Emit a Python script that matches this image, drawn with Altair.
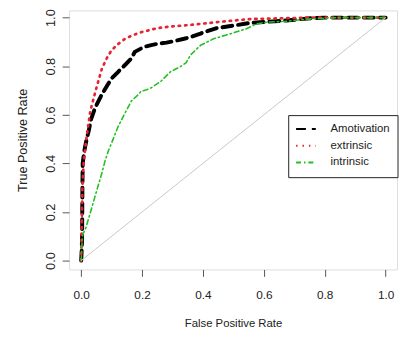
import altair as alt
import pandas as pd

series_names = ["Amotivation", "extrinsic", "intrinsic"]
series_colors = ["#000000", "#e62332", "#22c022"]
series_dashes = [[10, 6], [1.5, 5], [5, 3, 1.5, 3]]
series_widths = [4, 2.7, 1.6]

amot_fpr = [0, 0.002, 0.003, 0.004, 0.005, 0.01, 0.018, 0.025, 0.032, 0.046, 0.068, 0.085,
            0.101, 0.12, 0.144, 0.165, 0.176, 0.197, 0.208, 0.23, 0.251, 0.28, 0.305, 0.338,
            0.359, 0.392, 0.403, 0.446, 0.5, 0.553, 0.6, 0.672, 0.758, 0.8, 1.0]
amot_tpr = [0, 0.05, 0.1, 0.3, 0.4, 0.45, 0.5, 0.535, 0.58, 0.63, 0.684, 0.72,
            0.751, 0.775, 0.805, 0.832, 0.859, 0.873, 0.880, 0.887, 0.892, 0.897, 0.903, 0.913,
            0.920, 0.934, 0.94, 0.957, 0.967, 0.978, 0.982, 0.988, 0.998, 1.0, 1.0]

extr_fpr = [0, 0.002, 0.004, 0.008, 0.013, 0.019, 0.03, 0.047, 0.068, 0.085, 0.1, 0.12,
            0.144, 0.17, 0.197, 0.251, 0.3, 0.359, 0.42, 0.467, 0.553, 0.65, 0.75, 1.0]
extr_tpr = [0, 0.15, 0.3, 0.4, 0.46, 0.52, 0.616, 0.697, 0.79, 0.835, 0.866, 0.89,
            0.913, 0.928, 0.94, 0.957, 0.964, 0.97, 0.978, 0.984, 0.994, 0.997, 1.0, 1.0]

intr_fpr = [0, 0.003, 0.006, 0.014, 0.03, 0.052, 0.068, 0.079, 0.09, 0.105, 0.12, 0.143,
            0.165, 0.185, 0.197, 0.215, 0.23, 0.262, 0.294, 0.327, 0.345, 0.359, 0.392,
            0.435, 0.489, 0.543, 0.575, 0.607, 0.672, 0.758, 0.85, 1.0]
intr_tpr = [0, 0.076, 0.11, 0.13, 0.197, 0.292, 0.36, 0.413, 0.454, 0.5, 0.548, 0.605,
            0.657, 0.68, 0.697, 0.703, 0.711, 0.738, 0.778, 0.799, 0.815, 0.846, 0.886,
            0.913, 0.933, 0.954, 0.974, 0.981, 0.985, 0.995, 1.0, 1.0]

diag_fpr = [0, 1]
diag_tpr = [0, 1]

tick_values = [0, 0.2, 0.4, 0.6, 0.8, 1.0]

rows = []
for name, xs, ys in zip(series_names, [amot_fpr, extr_fpr, intr_fpr], [amot_tpr, extr_tpr, intr_tpr]):
    for i, (a, b) in enumerate(zip(xs, ys)):
        rows.append({"series": name, "fpr": a, "tpr": b, "idx": i})
df = pd.DataFrame(rows)
diag_df = pd.DataFrame({"fpr": diag_fpr, "tpr": diag_tpr, "idx": [0, 1]})

FONT = "Liberation Sans"
xscale = alt.Scale(domain=[-0.0398, 1.0375], nice=False, zero=False)
yscale = alt.Scale(domain=[-0.0365, 1.0296], nice=False, zero=False)

xaxis = alt.Axis(values=tick_values, format=".1f", domain=False, grid=False, tickSize=7,
                 tickColor="#555", labelFont=FONT, labelFontSize=12, labelColor="#222",
                 labelPadding=22, labelBaseline="alphabetic", title="False Positive Rate",
                 titleFont=FONT, titleFontSize=11.5, titleFontWeight="normal", titleColor="#222",
                 titleY=58, titleBaseline="alphabetic")
yaxis = alt.Axis(values=tick_values, format=".1f", domain=False, grid=False, tickSize=7,
                 tickColor="#555", labelFont=FONT, labelFontSize=13, labelColor="#222",
                 labelAngle=-90, labelAlign="center", labelBaseline="alphabetic", labelPadding=8,
                 title="True Positive Rate", titleFont=FONT, titleFontSize=12.8,
                 titleFontWeight="normal", titleColor="#222", titleX=-43.5,
                 titleBaseline="alphabetic", titleAngle=-90, titleAlign="center")

legend = alt.Legend(title=None, orient="none", legendX=222.5, legendY=106.3, symbolType="stroke",
                    symbolSize=400, symbolStrokeWidth=2, clipHeight=14.3, padding=7,
                    strokeColor="#222", fillColor="white", labelFont=FONT, labelFontSize=11.5,
                    labelOffset=14, labelColor="#222", cornerRadius=0)

color = alt.Color("series:N", scale=alt.Scale(domain=series_names, range=series_colors), legend=legend)
dash = alt.StrokeDash("series:N", scale=alt.Scale(domain=series_names, range=series_dashes), legend=legend)

layers = []
for name, w in zip(series_names, series_widths):
    layers.append(
        alt.Chart(df).transform_filter(alt.datum.series == name)
        .mark_line(strokeWidth=w, strokeCap="round", strokeJoin="round")
        .encode(x=alt.X("fpr:Q", scale=xscale, axis=xaxis),
                y=alt.Y("tpr:Q", scale=yscale, axis=yaxis),
                color=color, strokeDash=dash, order="idx:Q")
    )

diag = alt.Chart(diag_df).mark_line(color="#c8c8c8", strokeWidth=1).encode(
    x=alt.X("fpr:Q", scale=xscale, axis=xaxis),
    y=alt.Y("tpr:Q", scale=yscale, axis=yaxis),
    order="idx:Q")

chart = alt.layer(*layers, diag).properties(
    width=333, height=263,
    autosize=alt.AutoSizeParams(type="none"),
    padding={"left": 62, "top": 0, "right": 3, "bottom": 58},
).configure_view(stroke="#555", strokeWidth=1).configure(background="white")

chart.save("out.html", embed_options={"renderer": "svg", "actions": False})
